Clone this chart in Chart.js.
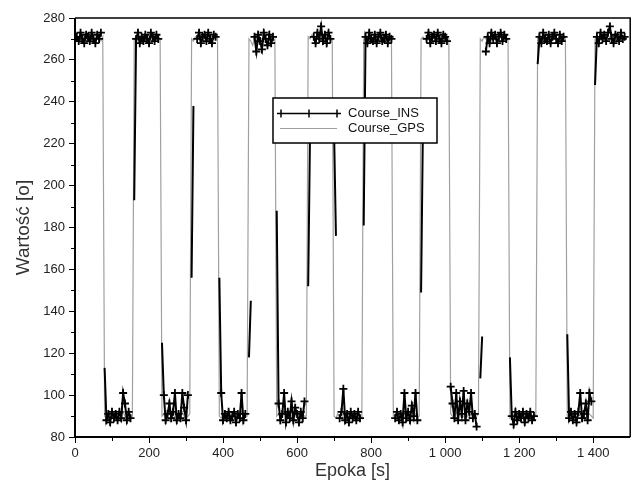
<!DOCTYPE html>
<html>
<head>
<meta charset="utf-8">
<script src="https://cdn.jsdelivr.net/npm/chart.js@4.4.1/dist/chart.umd.min.js"></script>
<style>
  html, body { margin: 0; padding: 0; background: #fff; }
</style>
</head>
<body>
<canvas id="kurs" width="636" height="484"></canvas>
<script>
// sampling of the recording, every 5 s starting at 5 s
const firstEpoch = 5;
const sampleStep = 5;

// Course_INS, one row per half-turn (null = gap in the INS line)
const courseIns = [
  271, 269, 273, 270, 268, 272, 271, 269, 273, 270, 268, 272, 270, 273, null,
  113, 88, 91, 87, 92, 89, 91, 88, 92, 89, 101, 96, 88, 92, 89, null,
  193, 270, 273, 268, 271, 269, 272, 270, 268, 273, 271, 269, 272, 270, null,
  125, 100, 88, 91, 96, 89, 92, 101, 88, 91, 89, 101, 94, 88, 100, null,
  156, 238, null, 270, 273, 268, 271, 272, 269, 273, 270, 268, 272, 271, null,
  156, 101, 88, 91, 89, 92, 88, 90, 92, 87, 91, 89, 101, 88, 91, null,
  118, 145, null, 271, 264, 272, 269, 265, 273, 270, 267, 272, 268, 271, null,
  188, 96, 88, 91, 101, 87, 92, 89, 97, 88, 94, 91, 87, 92, 89, 97, null,
  152, 225, null, 271, 268, 273, 270, 276, 269, 272, 268, 273, 270, null,
  225, 176, null, 89, 92, 103, 88, 91, 87, 92, 89, 91, 88, 92, 89, null,
  181, 271, 268, 273, 270, 269, 272, 268, 271, 273, 269, 270, 272, 268, 271, 270,
  null, 89, 92, 88, 91, 87, 101, 89, 92, 88, 95, 90, 101, 88, null,
  149, 228, null, 270, 273, 268, 271, 272, 269, 273, 270, 268, 272, 271, 269, null,
  104, 96, 89, 101, 88, 97, 91, 102, 88, 96, 92, 101, 89, 91, 85, null,
  108, 128, null, 264, 271, 268, 273, 270, 272, 268, 271, 273, 269, 272, 270, null,
  118, 90, 86, 92, 88, 91, 89, 92, 87, 91, 89, 92, 88, 90, null,
  258, 271, 268, 273, 270, 269, 272, 268, 271, 273, 270, 268, 272, 269, 271, null,
  129, 89, 92, 88, 91, 87, 92, 101, 89, 91, 96, 88, 101, 97, null,
  248, 271, 268, 273, 270, 272, 269, 273, 276, 270, 268, 272, 271, 269, 273, 270, 271
];

// Course_GPS
const courseGps = [
  270, 271, 270, 269, 271, 272, 270, 269, 270, 271, 270, 272, 270, 269, 271,
  90, 89, 91, 90, 89, 90, 91, 90, 89, 90, 92, 90, 89, 91, 90, 90,
  270, 271, 269, 270, 272, 270, 269, 271, 270, 270, 272, 269, 270, 271, 270,
  90, 91, 89, 90, 92, 90, 89, 90, 91, 89, 90, 92, 90, 89, 90, 91,
  270, 269, 271, 270, 270, 272, 269, 270, 271, 269, 270, 271, 270, 272, 270,
  90, 89, 90, 91, 90, 89, 91, 90, 89, 90, 91, 90, 92, 89, 90, 90,
  270, 269, 267, 270, 271, 268, 270, 269, 271, 270, 268, 270, 271, 269, 270,
  90, 91, 89, 90, 92, 90, 89, 91, 90, 89, 90, 92, 90, 89, 91, 90, 90,
  271, 270, 272, 271, 270, 272, 273, 271, 270, 272, 270, 271, 269, 270,
  90, 89, 91, 90, 89, 90, 91, 89, 90, 92, 90, 89, 90, 91, 90, 89,
  270, 271, 269, 270, 272, 270, 269, 271, 270, 269, 270, 271, 272, 270, 269, 268,
  90, 91, 89, 90, 90, 92, 90, 89, 91, 90, 89, 90, 91, 90, 90,
  270, 271, 270, 269, 271, 270, 272, 270, 269, 270, 271, 270, 269, 271, 270, 270,
  91, 90, 89, 92, 90, 91, 89, 90, 92, 90, 89, 91, 90, 89, 90, 91,
  270, 269, 271, 270, 272, 270, 269, 270, 271, 270, 269, 272, 270, 271, 269, 270,
  89, 90, 91, 90, 89, 92, 90, 90, 89, 91, 90, 89, 90, 91, 90,
  271, 270, 269, 271, 270, 272, 270, 269, 270, 271, 270, 269, 271, 270, 272, 270,
  90, 89, 91, 90, 90, 89, 91, 90, 92, 90, 89, 90, 91, 90, 89,
  270, 271, 269, 270, 272, 271, 270, 269, 271, 270, 272, 270, 269, 271, 270, 271, 270
];

const seriesNames = ['Course_INS', 'Course_GPS'];
const xRange = [0, 1500];
const yRange = [80, 280];

const epochs = courseGps.map((_, i) => firstEpoch + i * sampleStep);
const toPoints = arr => arr.map((v, i) => ({ x: epochs[i], y: v }));

const insColor = '#000';
const gpsColor = 'rgb(160,160,160)';
const font = 'Liberation Sans';

const fmtThousands = v => String(v).replace(/\B(?=(\d{3})+(?!\d))/g, ' ');

// white background, frame, minor ticks
const frame = {
  id: 'frame',
  beforeDraw(chart) {
    const { ctx } = chart;
    ctx.save();
    ctx.fillStyle = '#fff';
    ctx.fillRect(0, 0, chart.width, chart.height);
    ctx.restore();
  },
  afterDraw(chart) {
    const { ctx, chartArea: a, scales: { x, y } } = chart;
    ctx.save();
    ctx.strokeStyle = '#000';
    ctx.lineWidth = 1;
    ctx.beginPath();
    for (let v = 100; v < xRange[1]; v += 200) {
      const px = Math.round(x.getPixelForValue(v)) + 0.5;
      ctx.moveTo(px, a.bottom);
      ctx.lineTo(px, a.bottom + 4);
    }
    for (let v = 90; v < yRange[1]; v += 20) {
      const py = Math.round(y.getPixelForValue(v)) + 0.5;
      ctx.moveTo(a.left, py);
      ctx.lineTo(a.left - 4, py);
    }
    ctx.stroke();
    // top + right
    ctx.lineWidth = 1.5;
    ctx.beginPath();
    ctx.moveTo(a.left, a.top);
    ctx.lineTo(a.right, a.top);
    ctx.lineTo(a.right, a.bottom);
    ctx.stroke();
    // left + bottom axes
    ctx.lineWidth = 2;
    ctx.beginPath();
    ctx.moveTo(a.left, a.top);
    ctx.lineTo(a.left, a.bottom);
    ctx.lineTo(a.right, a.bottom);
    ctx.stroke();
    ctx.restore();
  }
};

// legend box inside the plot
const boxLegend = {
  id: 'boxLegend',
  afterDatasetsDraw(chart) {
    const { ctx, chartArea: a } = chart;
    const x0 = a.left + 198, y0 = a.top + 80, w = 164, h = 45;
    ctx.save();
    ctx.fillStyle = '#fff';
    ctx.fillRect(x0, y0, w, h);
    ctx.strokeStyle = '#000';
    ctx.lineWidth = 1.5;
    ctx.strokeRect(x0, y0, w, h);

    // INS sample
    const yi = y0 + 15.5;
    ctx.lineWidth = 1.5;
    ctx.beginPath();
    ctx.moveTo(x0 + 4, yi);
    ctx.lineTo(x0 + 65, yi);
    [x0 + 8, x0 + 36, x0 + 64].forEach(px => {
      ctx.moveTo(px - 4, yi); ctx.lineTo(px + 4, yi);
      ctx.moveTo(px, yi - 4); ctx.lineTo(px, yi + 4);
    });
    ctx.stroke();

    // GPS sample
    const yg = y0 + 30.5;
    ctx.strokeStyle = gpsColor;
    ctx.lineWidth = 1.2;
    ctx.beginPath();
    ctx.moveTo(x0 + 7, yg);
    ctx.lineTo(x0 + 64, yg);
    ctx.stroke();

    ctx.fillStyle = '#111';
    ctx.font = '13px "' + font + '"';
    ctx.textBaseline = 'middle';
    ctx.fillText(seriesNames[0], x0 + 75, yi);
    ctx.fillText(seriesNames[1], x0 + 75, yg);
    ctx.restore();
  }
};

const tickFont = { family: font, size: 13 };

new Chart(document.getElementById('kurs'), {
  type: 'line',
  data: {
    datasets: [{
      label: seriesNames[0],
      data: toPoints(courseIns),
      borderColor: insColor,
      backgroundColor: insColor,
      borderWidth: 2,
      pointStyle: 'cross',
      pointRadius: ctx => (ctx.raw && ctx.raw.y > 106 && ctx.raw.y < 262) ? 0 : 4,
      pointBorderWidth: 1.8,
      pointBorderColor: insColor,
      spanGaps: false
    }, {
      label: seriesNames[1],
      data: toPoints(courseGps),
      borderColor: gpsColor,
      borderWidth: 1.2,
      pointRadius: 0
    }]
  },
  options: {
    responsive: false,
    animation: false,
    layout: { padding: { left: 0, right: 4, top: 18, bottom: 0 } },
    plugins: {
      legend: { display: false },
      tooltip: { enabled: false }
    },
    scales: {
      x: {
        type: 'linear',
        min: xRange[0],
        max: xRange[1],
        afterFit(s) { s.height = 47; },
        ticks: {
          stepSize: 200,
          includeBounds: false,
          autoSkip: false,
          maxRotation: 0,
          padding: 3,
          color: '#222',
          font: tickFont,
          callback: v => fmtThousands(v)
        },
        grid: { drawOnChartArea: false, tickLength: 6, color: '#000', tickColor: '#000' },
        border: { display: false },
        title: { display: true, text: 'Epoka [s]', color: '#333', font: { family: font, size: 18 }, padding: { top: 0, bottom: 2 } }
      },
      y: {
        min: yRange[0],
        max: yRange[1],
        afterFit(s) { s.width = 75; },
        ticks: {
          stepSize: 20,
          padding: 4,
          color: '#222',
          font: tickFont
        },
        grid: { drawOnChartArea: false, tickLength: 6, color: '#000', tickColor: '#000' },
        border: { display: false },
        title: { display: true, text: 'Wartość [o]', color: '#333', font: { family: font, size: 19 }, padding: { top: 12, bottom: 0 } }
      }
    }
  },
  plugins: [frame, boxLegend]
});
</script>
</body>
</html>
